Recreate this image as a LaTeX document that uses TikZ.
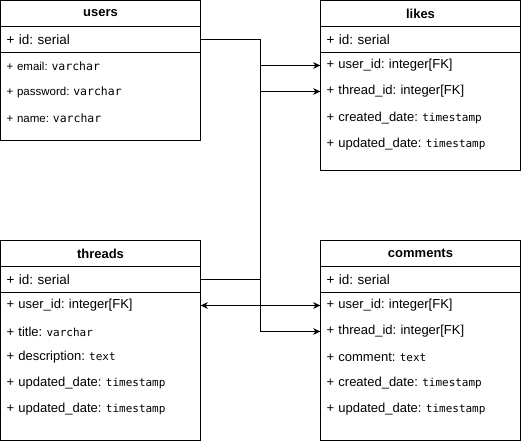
\documentclass[tikz,border=0pt]{standalone}
\usepackage{fontspec}
\setmainfont{Liberation Sans}
\newfontfamily\monofont{DejaVu Sans Mono}
\usetikzlibrary{arrows.meta}
\frenchspacing

\newcommand{\coltype}[1]{{\monofont\fontsize{11}{13}\selectfont #1}}
\newcommand{\ucoltype}[1]{{\monofont\fontsize{11.5}{13}\selectfont #1}}

\tikzset{
  tbl/.style={draw, line width=1pt, minimum width=200pt, inner sep=0pt},
  head/.style={tbl, minimum height=26pt, font=\bfseries\fontsize{13}{15}\selectfont},
  row/.style={minimum width=200pt, minimum height=26pt, inner xsep=6pt, inner ysep=0pt,
    text width=188pt, align=left, font=\fontsize{13}{15}\selectfont},
  idrow/.style={row, draw, line width=1pt, font=\fontsize{13.5}{15}\selectfont},
  urow/.style={row, font=\fontsize{11.5}{13}\selectfont},
  link/.style={line width=1pt},
  tip/.tip={Stealth[length=7pt, width=6.5pt, inset=2pt]},
  fk/.style={link, -tip},
}

\begin{document}
\begin{tikzpicture}[x=1pt, y=-1pt]
      \useasboundingbox (0,0) rectangle (522,441);

      \node[tbl, minimum height=140pt] (users) at (100.5,70.5) {};
      \node[head] (users-head) at (100.5,13.5) {users};
      \node[idrow] (users-id) at (100.5,39.5) {+ id: serial};
      \node[urow] (users-email) at (100.5,66) {+ email: \ucoltype{varchar}};
      \node[urow] (users-pass) at (100.5,92) {+ password: \ucoltype{varchar}};
      \node[urow] (users-name) at (100.5,118) {+ name: \ucoltype{varchar}};

      \node[tbl, minimum height=170pt] (likes) at (420.5,85.5) {};
      \node[head] (likes-head) at (420.5,13.5) {likes};
      \node[idrow] (likes-id) at (420.5,39.5) {+ id: serial};
      \node[row] (likes-uid) at (420.5,65.5) {+ user\_id: integer[FK]};
      \node[row] (likes-tid) at (420.5,91.5) {+ thread\_id: integer[FK]};
      \node[row] (likes-created) at (420.5,118) {+ created\_date: \coltype{timestamp}};
      \node[row] (likes-updated) at (420.5,144) {+ updated\_date: \coltype{timestamp}};

      \node[tbl, minimum height=199.5pt] (threads) at (100.5,340.25) {};
      \node[head] (threads-head) at (100.5,253.5) {threads};
      \node[idrow] (threads-id) at (100.5,279.5) {+ id: serial};
      \node[row] (threads-uid) at (100.5,305.5) {+ user\_id: integer[FK]};
      \node[row] (threads-title) at (100.5,331.5) {+ title: \coltype{varchar}};
      \node[row] (threads-desc) at (100.5,357.5) {+ description: \coltype{text}};
      \node[row] (threads-upd1) at (100.5,383.5) {+ updated\_date: \coltype{timestamp}};
      \node[row] (threads-upd2) at (100.5,409.5) {+ updated\_date: \coltype{timestamp}};

      \node[tbl, minimum height=199.5pt] (comments) at (420.5,340.25) {};
      \node[head] (comments-head) at (420.5,253.5) {comments};
      \node[idrow] (comments-id) at (420.5,279.5) {+ id: serial};
      \node[row] (comments-uid) at (420.5,305.5) {+ user\_id: integer[FK]};
      \node[row] (comments-tid) at (420.5,331.5) {+ thread\_id: integer[FK]};
      \node[row] (comments-text) at (420.5,357.5) {+ comment: \coltype{text}};
      \node[row] (comments-created) at (420.5,383.5) {+ created\_date: \coltype{timestamp}};
      \node[row] (comments-updated) at (420.5,409.5) {+ updated\_date: \coltype{timestamp}};

      \coordinate (bus) at (260.5,0);
      \draw[fk] (users-id.east) -| (bus |- comments-tid.west) -- (comments-tid.west);
      \draw[fk] (bus |- likes-uid.west) -- (likes-uid.west);
      \draw[fk] (bus |- likes-tid.west) -- (likes-tid.west);
      \draw[link] (threads-id.east) -- (bus |- threads-id.east);
      \draw[link, tip-tip] (threads-uid.east) -- (comments-uid.west);

    \end{tikzpicture}
\end{document}
